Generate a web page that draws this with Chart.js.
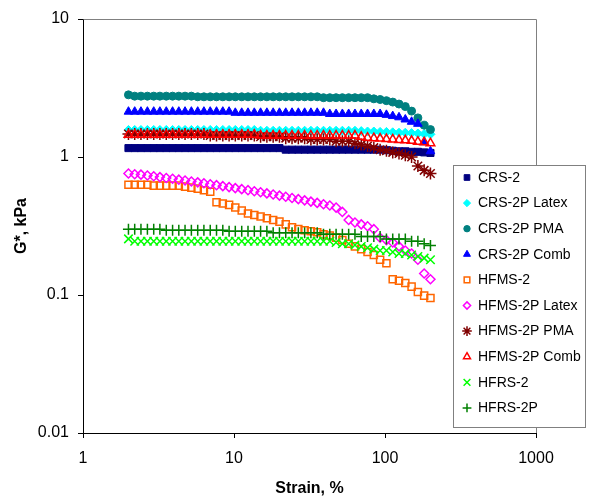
<!DOCTYPE html>
<html>
<head>
<meta charset="utf-8">
<script src="https://cdn.jsdelivr.net/npm/chart.js@4.4.0/dist/chart.umd.min.js"></script>
<style>
  html, body { margin: 0; padding: 0; background: #fff; }
  #wrap { width: 591px; height: 499px; position: relative; }
</style>
</head>
<body>
<div id="wrap"><canvas id="chart" width="591" height="499"></canvas></div>
<script>
// strain, % (x values shared by every series)
var STRAIN = [2.00, 2.20, 2.42, 2.67, 2.94, 3.23, 3.56, 3.92, 4.31, 4.74,
    5.22, 5.75, 6.32, 6.96, 7.66, 8.43, 9.28, 10.2, 11.25, 12.38,
    13.63, 15.0, 16.51, 18.17, 20.0, 22.01, 24.23, 26.67, 29.36, 32.31,
    35.57, 39.15, 43.09, 47.43, 52.2, 57.46, 63.25, 69.61, 76.62, 84.34,
    92.83, 102.2, 112.5, 123.8, 136.3, 150.0, 165.1, 181.7, 200.0];

// G*, kPa
var CRS_2 = [1.16, 1.16, 1.16, 1.16, 1.16, 1.16, 1.16, 1.16, 1.16, 1.16,
    1.16, 1.16, 1.16, 1.16, 1.16, 1.16, 1.16, 1.16, 1.16, 1.16,
    1.16, 1.16, 1.16, 1.16, 1.16, 1.13, 1.13, 1.13, 1.13, 1.13,
    1.13, 1.13, 1.13, 1.13, 1.13, 1.13, 1.13, 1.13, 1.13, 1.13,
    1.13, 1.12, 1.11, 1.10, 1.10, 1.09, 1.09, 1.08, 1.07];
var CRS_2P_LATEX = [1.57, 1.57, 1.57, 1.57, 1.57, 1.57, 1.57, 1.57, 1.57, 1.57,
    1.57, 1.57, 1.57, 1.57, 1.57, 1.57, 1.57, 1.57, 1.57, 1.57,
    1.57, 1.55, 1.55, 1.55, 1.55, 1.55, 1.55, 1.55, 1.55, 1.55,
    1.55, 1.55, 1.55, 1.55, 1.55, 1.55, 1.55, 1.54, 1.53, 1.53,
    1.52, 1.52, 1.51, 1.50, 1.50, 1.49, 1.48, 1.47, 1.46];
var CRS_2P_PMA = [2.82, 2.76, 2.76, 2.76, 2.76, 2.76, 2.76, 2.76, 2.76, 2.76,
    2.76, 2.73, 2.73, 2.73, 2.73, 2.73, 2.73, 2.73, 2.73, 2.73,
    2.73, 2.73, 2.73, 2.73, 2.73, 2.73, 2.73, 2.73, 2.73, 2.73,
    2.73, 2.69, 2.69, 2.69, 2.69, 2.69, 2.69, 2.69, 2.69, 2.64,
    2.61, 2.56, 2.50, 2.42, 2.32, 2.15, 1.92, 1.70, 1.58];
var CRS_2P_COMB = [2.13, 2.13, 2.13, 2.13, 2.13, 2.13, 2.13, 2.13, 2.13, 2.13,
    2.13, 2.13, 2.13, 2.13, 2.13, 2.13, 2.13, 2.09, 2.09, 2.09,
    2.09, 2.09, 2.09, 2.09, 2.09, 2.09, 2.09, 2.09, 2.09, 2.09,
    2.09, 2.09, 2.05, 2.05, 2.05, 2.05, 2.05, 2.05, 2.05, 2.05,
    2.05, 2.02, 1.98, 1.94, 1.87, 1.80, 1.74, 1.28, 1.10];
var HFMS_2 = [0.63, 0.63, 0.63, 0.63, 0.62, 0.62, 0.62, 0.62, 0.62, 0.61,
    0.60, 0.59, 0.575, 0.56, 0.47, 0.46, 0.45, 0.43, 0.41, 0.39,
    0.38, 0.37, 0.36, 0.35, 0.34, 0.325, 0.31, 0.30, 0.295, 0.29,
    0.285, 0.275, 0.27, 0.26, 0.25, 0.235, 0.225, 0.215, 0.205, 0.195,
    0.18, 0.17, 0.13, 0.127, 0.122, 0.115, 0.105, 0.099, 0.095];
var HFMS_2P_LATEX = [0.76, 0.75, 0.745, 0.735, 0.725, 0.715, 0.705, 0.695, 0.685, 0.675,
    0.665, 0.655, 0.645, 0.635, 0.625, 0.615, 0.605, 0.595, 0.585, 0.575,
    0.565, 0.555, 0.545, 0.535, 0.525, 0.515, 0.505, 0.495, 0.485, 0.475,
    0.465, 0.455, 0.445, 0.43, 0.40, 0.35, 0.335, 0.325, 0.315, 0.30,
    0.26, 0.25, 0.24, 0.225, 0.21, 0.20, 0.18, 0.143, 0.13];
var HFMS_2P_PMA = [1.47, 1.47, 1.47, 1.47, 1.47, 1.47, 1.47, 1.47, 1.47, 1.47,
    1.47, 1.47, 1.47, 1.43, 1.43, 1.43, 1.43, 1.43, 1.43, 1.43,
    1.43, 1.40, 1.40, 1.40, 1.40, 1.37, 1.37, 1.37, 1.37, 1.34,
    1.34, 1.34, 1.34, 1.30, 1.30, 1.30, 1.26, 1.23, 1.20, 1.17,
    1.13, 1.11, 1.08, 1.06, 1.03, 1.00, 0.86, 0.80, 0.76];
var HFMS_2P_COMB = [1.45, 1.45, 1.45, 1.45, 1.45, 1.45, 1.45, 1.45, 1.45, 1.45,
    1.45, 1.45, 1.45, 1.45, 1.45, 1.45, 1.45, 1.45, 1.45, 1.45,
    1.45, 1.43, 1.43, 1.43, 1.43, 1.43, 1.43, 1.43, 1.43, 1.43,
    1.43, 1.43, 1.43, 1.43, 1.43, 1.43, 1.43, 1.40, 1.38, 1.37,
    1.36, 1.35, 1.34, 1.33, 1.32, 1.31, 1.29, 1.28, 1.26];
var HFRS_2 = [0.255, 0.245, 0.245, 0.245, 0.245, 0.245, 0.245, 0.245, 0.245, 0.245,
    0.245, 0.245, 0.245, 0.245, 0.245, 0.245, 0.245, 0.245, 0.245, 0.245,
    0.245, 0.245, 0.245, 0.245, 0.245, 0.245, 0.245, 0.245, 0.245, 0.245,
    0.245, 0.245, 0.245, 0.24, 0.235, 0.235, 0.23, 0.225, 0.22, 0.215,
    0.21, 0.21, 0.205, 0.20, 0.20, 0.195, 0.19, 0.185, 0.18];
var HFRS_2P = [0.30, 0.30, 0.30, 0.30, 0.30, 0.30, 0.295, 0.295, 0.295, 0.295,
    0.295, 0.295, 0.295, 0.295, 0.295, 0.295, 0.29, 0.29, 0.29, 0.29,
    0.29, 0.29, 0.29, 0.283, 0.283, 0.283, 0.283, 0.283, 0.283, 0.283,
    0.283, 0.275, 0.275, 0.275, 0.275, 0.275, 0.275, 0.265, 0.265, 0.265,
    0.265, 0.255, 0.255, 0.255, 0.255, 0.245, 0.245, 0.235, 0.228];

var X_TICKS = [1, 10, 100, 1000];
var Y_TICKS = [0.01, 0.1, 1, 10];

var SERIES = [
    { label: 'CRS-2', values: CRS_2, color: '#000080', style: 'rect', r: 5, fill: true },
    { label: 'CRS-2P Latex', values: CRS_2P_LATEX, color: '#00FFFF', style: 'rectRot', r: 4.5, fill: true },
    { label: 'CRS-2P PMA', values: CRS_2P_PMA, color: '#008080', style: 'circle', r: 4, fill: true },
    { label: 'CRS-2P Comb', values: CRS_2P_COMB, color: '#0000FF', style: 'triangle', r: 5, fill: true },
    { label: 'HFMS-2', values: HFMS_2, color: '#FF6600', style: 'rect', r: 5, fill: false },
    { label: 'HFMS-2P Latex', values: HFMS_2P_LATEX, color: '#FF00FF', style: 'rectRot', r: 4.5, fill: false },
    { label: 'HFMS-2P PMA', values: HFMS_2P_PMA, color: '#800000', style: 'star', r: 6, fill: false },
    { label: 'HFMS-2P Comb', values: HFMS_2P_COMB, color: '#FF0000', style: 'triangle', r: 5, fill: false },
    { label: 'HFRS-2', values: HFRS_2, color: '#00FF00', style: 'crossRot', r: 6, fill: false },
    { label: 'HFRS-2P', values: HFRS_2P, color: '#008000', style: 'cross', r: 5.5, fill: false }
];

var datasets = SERIES.map(function (s, i) {
    return {
        label: s.label,
        data: STRAIN.map(function (x, k) { return { x: x, y: s.values[k] }; }),
        pointStyle: s.style,
        pointRadius: s.r,
        pointBorderWidth: s.fill ? 1 : 1.5,
        pointBorderColor: s.color,
        pointBackgroundColor: s.fill ? s.color : 'rgba(255,255,255,0)',
        showLine: false,
        order: SERIES.length - i
    };
});

// gray top and right frame lines
var framePlugin = {
    id: 'frame',
    beforeDatasetsDraw: function (chart) {
        var a = chart.chartArea, ctx = chart.ctx;
        ctx.save();
        ctx.strokeStyle = '#808080';
        ctx.lineWidth = 1;
        ctx.beginPath();
        ctx.moveTo(Math.round(a.left) + 0.5, Math.round(a.top) + 0.5);
        ctx.lineTo(Math.round(a.right) + 0.5, Math.round(a.top) + 0.5);
        ctx.lineTo(Math.round(a.right) + 0.5, Math.round(a.bottom));
        ctx.stroke();
        ctx.restore();
    }
};

// boxed legend drawn over the plot, as in the original
var legendPlugin = {
    id: 'boxLegend',
    afterDraw: function (chart) {
        var ctx = chart.ctx;
        ctx.save();
        ctx.fillStyle = '#fff';
        ctx.strokeStyle = '#808080';
        ctx.lineWidth = 1;
        ctx.fillRect(453.5, 165.5, 132, 262);
        ctx.strokeRect(453.5, 165.5, 132, 262);
        ctx.font = '14px Arial, "Liberation Sans", sans-serif';
        ctx.textBaseline = 'middle';
        SERIES.forEach(function (s, i) {
            var y = 177.5 + i * 25.6;
            ctx.strokeStyle = s.color;
            ctx.fillStyle = s.fill ? s.color : 'rgba(255,255,255,0)';
            ctx.lineWidth = s.fill ? 1 : 1.5;
            Chart.helpers.drawPoint(ctx, { pointStyle: s.style, radius: s.r * 0.8, rotation: 0, borderWidth: ctx.lineWidth }, 467, y);
            ctx.fillStyle = '#000';
            ctx.fillText(s.label, 478, y + 0.5);
        });
        ctx.restore();
    }
};

var tickFont = { family: 'Arial, "Liberation Sans", sans-serif', size: 16 };
var titleFont = { family: 'Arial, "Liberation Sans", sans-serif', size: 16, weight: 'bold' };

new Chart(document.getElementById('chart'), {
    type: 'scatter',
    data: { datasets: datasets },
    plugins: [framePlugin, legendPlugin],
    options: {
        responsive: false,
        animation: false,
        layout: { padding: { top: 19, right: 55, left: 0, bottom: 0 } },
        plugins: {
            legend: { display: false },
            tooltip: { enabled: false }
        },
        scales: {
            x: {
                type: 'logarithmic',
                min: 1,
                max: 1000,
                afterBuildTicks: function (scale) {
                    scale.ticks = X_TICKS.map(function (v) { return { value: v }; });
                },
                afterFit: function (scale) { scale.height = 66; },
                ticks: {
                    autoSkip: false,
                    maxRotation: 0,
                    padding: 11,
                    color: '#000',
                    font: tickFont,
                    callback: function (v) { return String(v); }
                },
                grid: { drawOnChartArea: false, drawTicks: true, tickLength: 5, color: '#000' },
                border: { color: '#000', width: 1 },
                title: { display: true, text: 'Strain, %', color: '#000', font: titleFont, padding: { top: 0, bottom: 1 } }
            },
            y: {
                type: 'logarithmic',
                min: 0.01,
                max: 10,
                afterBuildTicks: function (scale) {
                    scale.ticks = Y_TICKS.map(function (v) { return { value: v }; });
                },
                afterFit: function (scale) { scale.width = 83; },
                ticks: {
                    autoSkip: false,
                    padding: 9,
                    color: '#000',
                    font: tickFont,
                    callback: function (v) { return String(v); }
                },
                grid: { drawOnChartArea: false, drawTicks: true, tickLength: 5, color: '#000' },
                border: { color: '#000', width: 1 },
                title: { display: true, text: 'G*, kPa', color: '#000', font: titleFont, padding: { top: 12, bottom: 0 } }
            }
        }
    }
});
</script>
</body>
</html>
